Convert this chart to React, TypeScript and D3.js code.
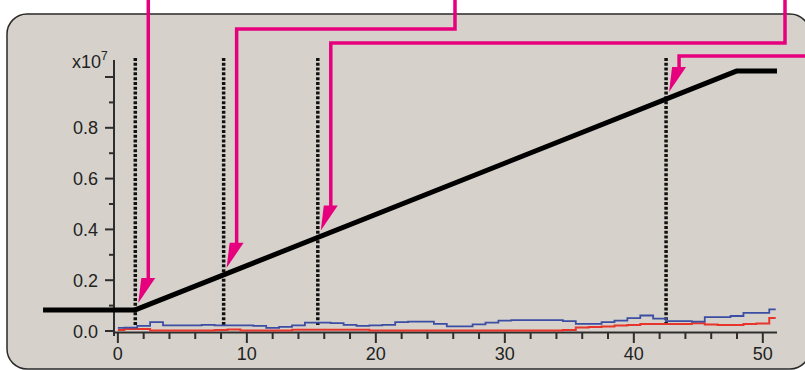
import React from "react";
import * as d3 from "d3";

// time axis (units) and the two noisy traces, values in x10^7
const sampleTime = d3.range(0, 52);
const blueValues = [
  0.012, 0.013, 0.02, 0.035, 0.022, 0.022, 0.022, 0.024, 0.022, 0.022,
  0.022, 0.02, 0.012, 0.016, 0.022, 0.033, 0.033, 0.031, 0.024, 0.02,
  0.022, 0.024, 0.035, 0.037, 0.037, 0.028, 0.018, 0.018, 0.026, 0.033,
  0.041, 0.043, 0.043, 0.043, 0.043, 0.039, 0.028, 0.028, 0.035, 0.041,
  0.051, 0.061, 0.049, 0.039, 0.039, 0.037, 0.055, 0.055, 0.059, 0.071,
  0.071, 0.085,
];
const redValues = [
  0.004, 0.008, 0.008, 0.002, 0.002, 0.002, 0.002, 0.002, 0.004, 0.006,
  0.002, 0.002, 0.002, 0.002, 0.005, 0.005, 0.005, 0.005, 0.005, 0.005,
  0.002, 0.002, 0.002, 0.002, 0.002, 0.002, 0.002, 0.002, 0.002, 0.002,
  0.002, 0.002, 0.002, 0.002, 0.002, 0.004, 0.014, 0.016, 0.018, 0.022,
  0.024, 0.028, 0.028, 0.028, 0.028, 0.031, 0.026, 0.024, 0.024, 0.028,
  0.03, 0.051,
];

// the thick ramp
const rampTime = [-5.8, 1.35, 48, 51.1];
const rampValue = [0.083, 0.083, 1.024, 1.024];

// dotted markers
const markerTimes = [1.35, 8.2, 15.5, 42.5];

const xMajor = [0, 10, 20, 30, 40, 50];
const xMinor = [2, 4, 6, 8, 12, 14, 16, 18, 22, 24, 26, 28, 32, 34, 36, 38, 42, 44, 46, 48];
const yMajor = [0, 0.2, 0.4, 0.6, 0.8, 1.0];
const yLabels = ["0.0", "0.2", "0.4", "0.6", "0.8"];
const yMinor = [0.1, 0.3, 0.5, 0.7, 0.9];

const W = 805;
const H = 370;
const FONT = "'Liberation Sans', Arial, sans-serif";
const MAGENTA = "#e6007e";
const AXIS = "#2e2e2e";

export default function App() {
  const x = d3.scaleLinear().domain([-0.3, 51.1]).range([114, 777]);
  const y = d3.scaleLinear().domain([0, 1.067]).range([331, 60]);
  const rampAt = d3.scaleLinear().domain(rampTime).range(rampValue);

  const trace = d3
    .line<number>()
    .x((_, i) => x(sampleTime[i]))
    .y((d) => y(d))
    .curve(d3.curveStep);

  const ramp = d3
    .line<number>()
    .x((_, i) => x(rampTime[i]))
    .y((d) => y(d));

  // routes of the callout lines, from the top edge down to above each marker
  const routes = markerTimes.map((t, i) => {
    const lx = x(t) + 13;
    const tipY = y(rampAt(t)) - 7;
    const baseY = tipY - 25;
    let pts: [number, number][];
    if (i === 0) pts = [[lx, 0]];
    else if (i === 1) pts = [[455, 0], [455, 29], [lx, 29]];
    else if (i === 2) pts = [[785, 0], [785, 43], [lx, 43]];
    else pts = [[W + 2, 56], [lx, 56]];
    pts.push([lx, baseY + 2]);
    return { pts, lx, baseY, tipY };
  });

  return (
    <svg
      width={W}
      height={H}
      style={{ position: "absolute", left: 0, top: 0, background: "#fff" }}
      fontFamily={FONT}
    >
      <rect x={7} y={14} width={803} height={355} rx={20} fill="#d6d2cb" stroke="#2a2a2a" strokeWidth={1.5} />

      {/* axes */}
      <line x1={x(-0.3)} x2={x(-0.3)} y1={y(1.067)} y2={y(0) + 5} stroke={AXIS} strokeWidth={2} />
      <line x1={x(-0.3)} x2={x(51.1)} y1={y(0) + 1.5} y2={y(0) + 1.5} stroke={AXIS} strokeWidth={2} />
      {yMajor.map((v) => (
        <line key={"ym" + v} x1={x(-0.3) - 9} x2={x(-0.3)} y1={y(v)} y2={y(v)} stroke={AXIS} strokeWidth={2} />
      ))}
      {yMinor.map((v) => (
        <line key={"yn" + v} x1={x(-0.3) - 5} x2={x(-0.3)} y1={y(v)} y2={y(v)} stroke={AXIS} strokeWidth={2} />
      ))}
      {yLabels.map((s, i) => (
        <text key={s} x={98} y={y(yMajor[i]) + 6.5} textAnchor="end" fontSize={18} fill="#222">
          {s}
        </text>
      ))}
      <text x={72} y={68} fontSize={18} fill="#222">
        x10
        <tspan dy={-8} fontSize={12}>7</tspan>
      </text>
      {xMajor.map((v) => (
        <g key={"xm" + v}>
          <line x1={x(v)} x2={x(v)} y1={y(0) + 1.5} y2={y(0) + 12} stroke={AXIS} strokeWidth={2} />
          <text x={x(v)} y={360} textAnchor="middle" fontSize={18} fill="#222">
            {v}
          </text>
        </g>
      ))}
      {xMinor.map((v) => (
        <line key={"xn" + v} x1={x(v)} x2={x(v)} y1={y(0) + 1.5} y2={y(0) + 8} stroke={AXIS} strokeWidth={2} />
      ))}

      {/* dotted markers */}
      {markerTimes.map((t) => (
        <line key={"d" + t} x1={x(t)} x2={x(t)} y1={y(1.075)} y2={y(0.024)} stroke="#111" strokeWidth={3.5} strokeDasharray="3,1.8" />
      ))}

      {/* traces */}
      <path d={trace(redValues) || ""} fill="none" stroke="#e8352b" strokeWidth={2} />
      <path d={trace(blueValues) || ""} fill="none" stroke="#3b4ea3" strokeWidth={1.8} />

      <path d={ramp(rampValue) || ""} fill="none" stroke="#000" strokeWidth={5} strokeLinejoin="round" />

      {/* callouts */}
      {routes.map((r, i) => (
        <g key={"c" + i}>
          <path d={d3.line()(r.pts) || ""} fill="none" stroke={MAGENTA} strokeWidth={3.5} />
          <polygon
            points={`${r.lx - 7},${r.baseY} ${r.lx + 7},${r.baseY} ${r.lx - 10},${r.tipY}`}
            fill={MAGENTA}
          />
        </g>
      ))}
    </svg>
  );
}
